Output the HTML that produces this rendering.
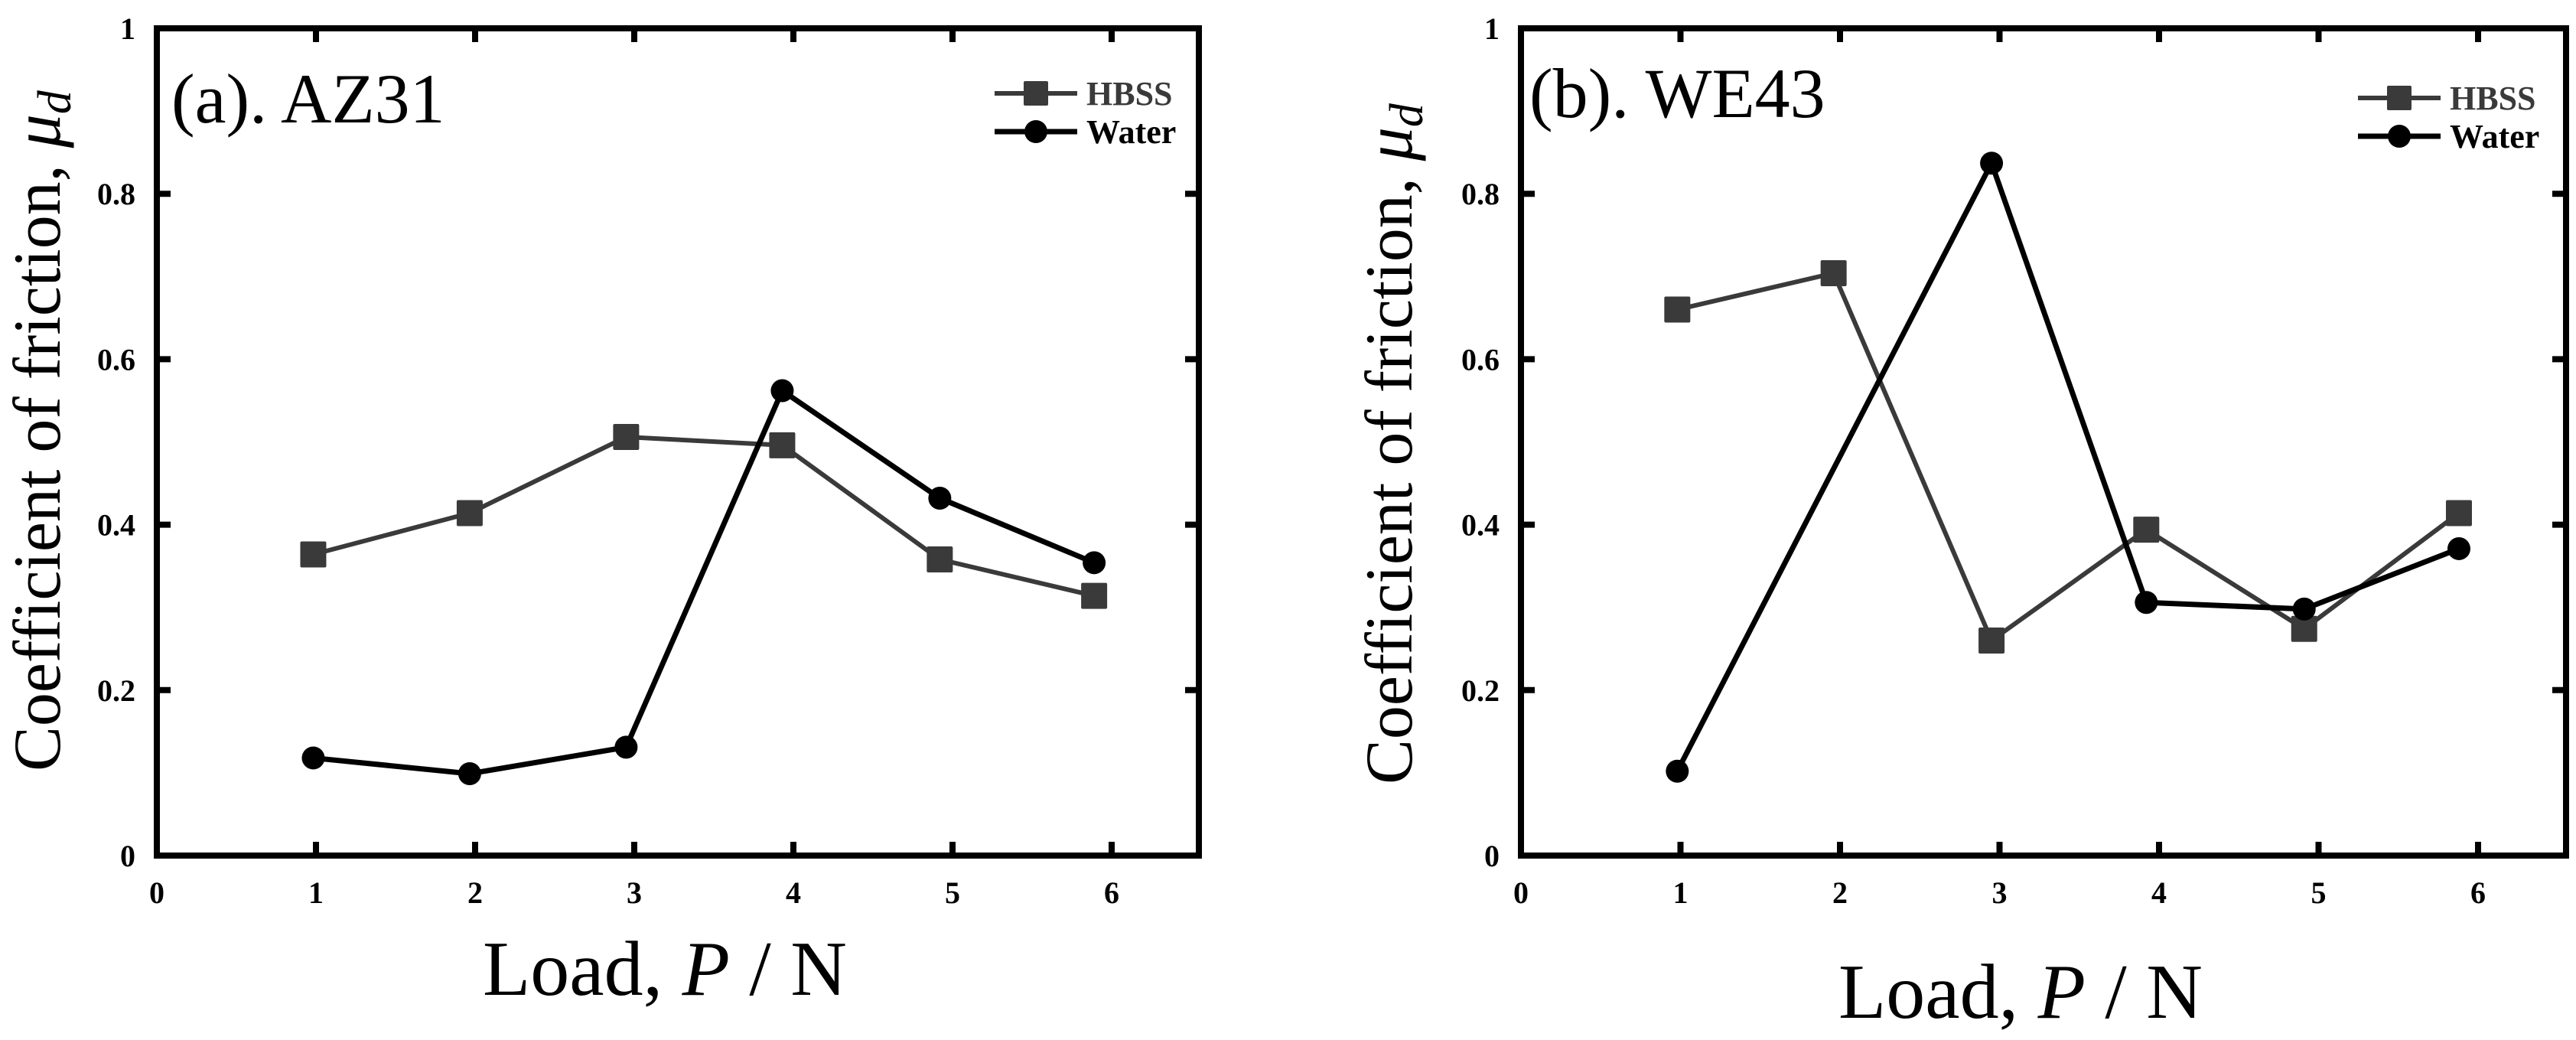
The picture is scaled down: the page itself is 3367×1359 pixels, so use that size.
<!DOCTYPE html>
<html><head><meta charset="utf-8"><style>
html,body{margin:0;padding:0;background:#fff;}
svg{display:block;}
text{font-family:"Liberation Serif","Times New Roman",serif;}
</style></head><body>
<svg id="fig" width="3367" height="1359" viewBox="0 0 3367 1359"></svg>
<script>
const loadsA = [0.983, 1.966, 2.949, 3.93, 4.92, 5.89];
const hbssA = [0.364, 0.414, 0.506, 0.496, 0.358, 0.314];
const waterLoadsA = [0.983, 1.966, 2.949, 3.93, 4.92, 5.89];
const waterA = [0.118, 0.099, 0.131, 0.562, 0.432, 0.354];
const loadsB = [0.98, 1.96, 2.95, 3.92, 4.91, 5.88];
const hbssB = [0.66, 0.704, 0.26, 0.394, 0.274, 0.414];
const waterLoadsB = [0.98, 2.95, 3.92, 4.91, 5.88];
const waterB = [0.102, 0.837, 0.306, 0.298, 0.371];
const xTicks = ["0","1","2","3","4","5","6"];
const yTicks = ["0","0.2","0.4","0.6","0.8","1"];

const NS = "http://www.w3.org/2000/svg";
const svg = document.getElementById("fig");
function mk(tag, attrs, parent, txt){
  const e = document.createElementNS(NS, tag);
  for (const k in attrs) e.setAttribute(k, attrs[k]);
  if (txt !== undefined) e.textContent = txt;
  (parent||svg).appendChild(e);
  return e;
}

function panel(p){
  const g = mk("g", {});
  
  
  const sx = v => p.left + v * p.unit;
  const sy = v => p.bottom - v * (p.bottom - p.top);
  const right = p.right;
  xTicks.forEach((t, i) => {
    const x = sx(i);
    if (i > 0) {
      const tk1 = mk("line", {x1:x, y1:p.bottom, x2:x, y2:p.bottom-18, stroke:"#000","stroke-width":8}, g);
      
      
      const tk2 = mk("line", {x1:x, y1:p.top, x2:x, y2:p.top+18, stroke:"#000","stroke-width":8}, g);
      
      
    }
    const lb = mk("text", {x:x, y:p.bottom+62, "font-size":40, "font-weight":"bold", "text-anchor":"middle"}, g, t);
    
    
  });
  yTicks.forEach((t, i) => {
    const v = i * 0.2, y = sy(v);
    if (i > 0 && i < 5) {
      const tk1 = mk("line", {x1:p.left, y1:y, x2:p.left+18, y2:y, stroke:"#000","stroke-width":8}, g);
      
      
      const tk2 = mk("line", {x1:right, y1:y, x2:right-18, y2:y, stroke:"#000","stroke-width":8}, g);
      
      
    }
    const lb = mk("text", {x:p.left-28, y:y+14, "font-size":40, "font-weight":"bold", "text-anchor":"end"}, g, t);
    
    
  });
  const frame = mk("rect", {x:p.left, y:p.top, width:right-p.left, height:p.bottom-p.top, fill:"none", stroke:"#000","stroke-width":8}, g);
  
  

  const hp = p.hx.map((x,i)=>sx(x)+","+sy(p.hy[i])).join(" ");
  const hl = mk("polyline", {points:hp, fill:"none", stroke:"#3a3a3a","stroke-width":6}, g);
  
  
  const wp = p.wx.map((x,i)=>sx(x)+","+sy(p.wy[i])).join(" ");
  const wl = mk("polyline", {points:wp, fill:"none", stroke:"#000","stroke-width":7}, g);
  
  
  p.hx.forEach((x,i)=>{
    const m = mk("rect", {x:sx(x)-17, y:sy(p.hy[i])-17, width:34, height:34, fill:"#3a3a3a", rx:2}, g);
    
    
  });
  p.wx.forEach((x,i)=>{
    const m = mk("circle", {cx:sx(x), cy:sy(p.wy[i]), r:15, fill:"#000"}, g);
    
    
  });

  const l1 = mk("line", {x1:p.legX, y1:p.legY, x2:p.legX+108, y2:p.legY, stroke:"#3a3a3a","stroke-width":6}, g);
  
  
  const l1m = mk("rect", {x:p.legX+54-16, y:p.legY-16, width:32, height:32, fill:"#3a3a3a", rx:2}, g);
  
  
  const l1t = mk("text", {x:p.legX+120, y:p.legY+15, "font-size":44, "font-weight":"bold", fill:"#3a3a3a"}, g, "HBSS");
  
  
  const l2 = mk("line", {x1:p.legX, y1:p.legY+50, x2:p.legX+108, y2:p.legY+50, stroke:"#000","stroke-width":7}, g);
  
  
  const l2m = mk("circle", {cx:p.legX+54, cy:p.legY+50, r:15, fill:"#000"}, g);
  
  
  const l2t = mk("text", {x:p.legX+120, y:p.legY+65, "font-size":44, "font-weight":"bold", fill:"#000"}, g, "Water");
  
  

  const tt = mk("text", {x:p.titleX, y:p.titleY, "font-size":92}, g, p.title);
  
  
  const xt = mk("text", {x:p.xtX, y:p.xtY, "font-size":102}, g);
  
  
  xt.innerHTML = 'Load, <tspan font-style="italic">P</tspan> / N';
  const yt = mk("text", {x:0, y:0, "font-size":88, "text-anchor":"middle", transform:"translate("+p.ytX+","+p.ytY+") rotate(-90)"}, g);
  
  
  yt.innerHTML = 'Coefficient of friction, <tspan font-style="italic">μ</tspan><tspan font-style="italic" font-size="62" dy="14">d</tspan>';
}

panel({name:"panel-az31", left:205, unit:208, right:1567, top:37, bottom:1118,
  hx:loadsA, hy:hbssA, wx:waterLoadsA, wy:waterA,
  legX:1300, legY:122, title:"(a). AZ31", titleX:224, titleY:160,
  xtX:631, xtY:1300, ytX:78, ytY:563});
panel({name:"panel-we43", left:1988, unit:208.5, right:3354, top:37, bottom:1118,
  hx:loadsB, hy:hbssB, wx:waterLoadsB, wy:waterB,
  legX:3082, legY:128, title:"(b). WE43", titleX:1999, titleY:153,
  xtX:2403, xtY:1330, ytX:1845, ytY:580});
</script>
</body></html>
